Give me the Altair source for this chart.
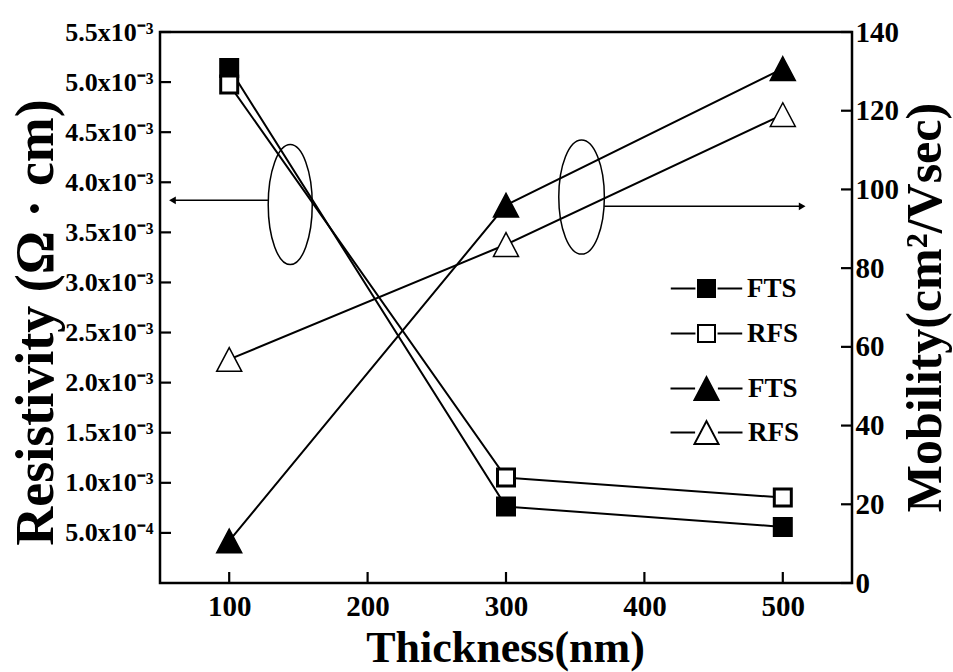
import altair as alt
import pandas as pd

# ---------------- data ----------------
thickness = [100, 300, 500]
series = ["FTS", "RFS"]
res_fts = [5.14e-3, 0.763e-3, 0.56e-3]
res_rfs = [4.975e-3, 1.053e-3, 0.853e-3]
mob_fts = [10.7, 96.0, 130.7]
mob_rfs = [56.8, 86.0, 119.0]

x_ticks = [100, 200, 300, 400, 500]
res_ticks = [0.0005, 0.001, 0.0015, 0.002, 0.0025, 0.003, 0.0035,
             0.004, 0.0045, 0.005, 0.0055]
mob_ticks = [0, 20, 40, 60, 80, 100, 120, 140]

# annotation anchors (data units: thickness, resistivity)
ellipse_left_t, ellipse_left_r = [144.1], [3.777e-3]
ellipse_right_t, ellipse_right_r = [354.6], [3.852e-3]
arrow_left_t, arrow_left_t2, arrow_left_r = [59.0], [128.0], [3.82e-3]
arrow_right_t, arrow_right_t2, arrow_right_r = [371.0], [514.0], [3.76e-3]

res_df = pd.DataFrame({"t": thickness * 2, "v": res_fts + res_rfs,
                       "s": ["FTS"] * 3 + ["RFS"] * 3})
mob_df = pd.DataFrame({"t": thickness * 2, "v": mob_fts + mob_rfs,
                       "s": ["FTS"] * 3 + ["RFS"] * 3})

FONT = "Liberation Serif"
W, H = 692, 551
TICK = 11

xs = alt.Scale(domain=[50, 550], nice=False, zero=False)
ys_res = alt.Scale(domain=[0, 0.0055], nice=False, zero=False)
ys_mob = alt.Scale(domain=[0, 140], nice=False, zero=False)

TRI = "M0,-0.95L1,0.95L-1,0.95Z"
SQ_LEG = "M-4.2,0H-1.3M-1,-1H1V1H-1ZM1.3,0H4.2"
TRI_LEG = "M-3,0H-0.95M0,-0.95L1,0.95L-1,0.95ZM0.95,0H3"
ELL1 = "M0,-1A0.367,1,0,1,1,0,1A0.367,1,0,1,1,0,-1Z"
ELL2 = "M0,-1A0.40,1,0,1,1,0,1A0.40,1,0,1,1,0,-1Z"

fill_scale = alt.Scale(domain=series, range=["black", "white"])

x_label_axis = alt.Axis(orient="bottom", values=x_ticks, ticks=False, domain=False,
                        grid=False, labelPadding=9, labelFontSize=29,
                        titleFontSize=44, titleX=345, titleY=78,
                        titleAlign="center", titleBaseline="alphabetic")
res_label_axis = alt.Axis(
    orient="left", values=res_ticks, ticks=False, domain=False, grid=False,
    labelPadding=7, labelFontSize=26,
    labelExpr="datum.value < 0.00099 ? format(datum.value*10000, '.1f') + 'x10\u207b\u2074' : format(datum.value*1000, '.1f') + 'x10\u207b\u00b3'",
    titleFontSize=54, titleAngle=270, titleX=-108, titleY=290,
    titleAlign="center", titleBaseline="alphabetic")
mob_label_axis = alt.Axis(orient="right", values=mob_ticks, ticks=False,
                          domain=False, grid=False, labelPadding=3,
                          labelFontSize=29, titleFontSize=50, titleAngle=270,
                          titleX=88, titleY=275, titleAlign="center",
                          titleBaseline="alphabetic")

# inward ticks, positioned through the scales
x_tick_marks = alt.Chart(pd.DataFrame({"xt": x_ticks})).mark_rule(
    color="black", strokeWidth=2.2).encode(
    x=alt.X("xt:Q", scale=xs, axis=None), y=alt.value(H), y2=alt.value(H - TICK))
res_tick_marks = alt.Chart(pd.DataFrame({"rt": res_ticks})).mark_rule(
    color="black", strokeWidth=2.2).encode(
    y=alt.Y("rt:Q", scale=ys_res, axis=None), x=alt.value(0), x2=alt.value(TICK))
mob_tick_marks = alt.Chart(pd.DataFrame({"mt": mob_ticks})).mark_rule(
    color="black", strokeWidth=2.2).encode(
    y=alt.Y("mt:Q", scale=ys_mob, axis=None), x=alt.value(W - TICK), x2=alt.value(W))

res_lines = alt.Chart(res_df).mark_line(color="black", strokeWidth=2).encode(
    x=alt.X("t:Q", scale=xs, axis=None),
    y=alt.Y("v:Q", scale=ys_res, axis=None),
    detail="s:N",
)

res_points = alt.Chart(res_df).mark_point(
    shape="square", filled=True, size=289, stroke="black", strokeWidth=3,
    opacity=1
).encode(
    x=alt.X("t:Q", scale=xs, axis=x_label_axis, title="Thickness(nm)"),
    y=alt.Y("v:Q", scale=ys_res, axis=res_label_axis,
            title="Resistivity (\u03a9 \u00b7 cm)"),
    fill=alt.Fill("s:N", scale=fill_scale, legend=alt.Legend(
        orient="none", legendX=533, legendY=243, title=None,
        symbolType=SQ_LEG, symbolSize=289, symbolStrokeColor="black",
        symbolStrokeWidth=2, symbolOpacity=1, labelFont=FONT, labelFontSize=27,
        labelFontWeight="bold", labelColor="black", labelOffset=27,
        rowPadding=17, padding=0)),
)

mob_lines = alt.Chart(mob_df).mark_line(color="black", strokeWidth=2).encode(
    x=alt.X("t:Q", scale=xs, axis=None),
    y=alt.Y("v:Q", scale=ys_mob, axis=None),
    detail="s:N",
)

mob_points = alt.Chart(mob_df).mark_point(
    shape=TRI, filled=True, size=625, stroke="black", strokeWidth=1.5, opacity=1
).encode(
    x=alt.X("t:Q", scale=xs, axis=None),
    y=alt.Y("v:Q", scale=ys_mob, axis=mob_label_axis,
            title="Mobility(cm\u00b2/Vsec)"),
    fill=alt.Fill("s:N", scale=fill_scale, legend=alt.Legend(
        orient="none", legendX=533, legendY=343, title=None,
        symbolType=TRI_LEG, symbolSize=576, symbolStrokeColor="black",
        symbolStrokeWidth=2, symbolOpacity=1, labelFont=FONT, labelFontSize=27,
        labelFontWeight="bold", labelColor="black", labelOffset=28,
        rowPadding=13, padding=0)),
)

ell1 = alt.Chart(pd.DataFrame({"t": ellipse_left_t, "r": ellipse_left_r})).mark_point(
    shape=ELL1, size=14400, filled=False, stroke="black", strokeWidth=1.5, opacity=1
).encode(x=alt.X("t:Q", scale=xs, axis=None), y=alt.Y("r:Q", scale=ys_res, axis=None))

ell2 = alt.Chart(pd.DataFrame({"t": ellipse_right_t, "r": ellipse_right_r})).mark_point(
    shape=ELL2, size=12996, filled=False, stroke="black", strokeWidth=1.5, opacity=1
).encode(x=alt.X("t:Q", scale=xs, axis=None), y=alt.Y("r:Q", scale=ys_res, axis=None))

arr_l_df = pd.DataFrame({"t": arrow_left_t, "t2": arrow_left_t2, "r": arrow_left_r})
arr_r_df = pd.DataFrame({"t": arrow_right_t2, "t2": arrow_right_t, "r": arrow_right_r})

arrow_l = alt.Chart(arr_l_df).mark_rule(color="black", strokeWidth=1.6).encode(
    x=alt.X("t:Q", scale=xs, axis=None), x2="t2:Q",
    y=alt.Y("r:Q", scale=ys_res, axis=None))
head_l = alt.Chart(arr_l_df).mark_point(
    shape="triangle-left", filled=True, size=60, color="black", opacity=1
).encode(x=alt.X("t:Q", scale=xs, axis=None), y=alt.Y("r:Q", scale=ys_res, axis=None))

arrow_r = alt.Chart(arr_r_df).mark_rule(color="black", strokeWidth=1.6).encode(
    x=alt.X("t2:Q", scale=xs, axis=None), x2="t:Q",
    y=alt.Y("r:Q", scale=ys_res, axis=None))
head_r = alt.Chart(arr_r_df).mark_point(
    shape="triangle-right", filled=True, size=60, color="black", opacity=1
).encode(x=alt.X("t:Q", scale=xs, axis=None), y=alt.Y("r:Q", scale=ys_res, axis=None))

chart = alt.layer(
    res_lines, mob_lines, ell1, ell2, arrow_l, head_l, arrow_r, head_r,
    res_points, mob_points,
    x_tick_marks, res_tick_marks, mob_tick_marks,
).resolve_scale(
    x="independent", y="independent", fill="independent"
).resolve_axis(
    x="independent", y="independent"
).resolve_legend(
    fill="independent"
).properties(
    width=W, height=H,
    autosize=alt.AutoSizeParams(type="none"),
    padding={"left": 160, "top": 32, "right": 101, "bottom": 89},
    background="white",
).configure_view(
    stroke="black", strokeWidth=2.5
).configure_axis(
    labelFont=FONT, titleFont=FONT, labelFontWeight="bold",
    titleFontWeight="bold", labelColor="black", titleColor="black",
)

chart.save("out.html", embed_options={"renderer": "svg", "actions": False})
